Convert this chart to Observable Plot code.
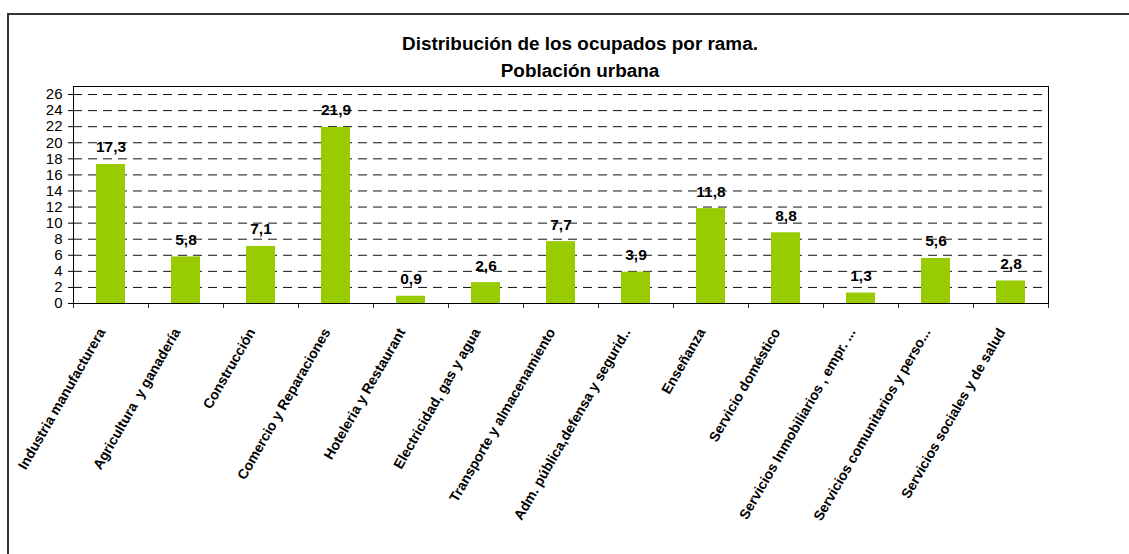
<!DOCTYPE html>
<html>
<head>
<meta charset="utf-8">
<script src="https://cdn.jsdelivr.net/npm/d3@7"></script>
<script src="https://cdn.jsdelivr.net/npm/@observablehq/plot@0.6"></script>
<style>
  html, body { margin: 0; padding: 0; background: #fff; overflow: hidden; }
  #wrap { position: relative; width: 1129px; height: 554px; overflow: hidden; }
  #border { position: absolute; left: 7px; top: 13px; width: 1300px; height: 700px; border: 2px solid #333; box-sizing: border-box; }
  #chart { position: absolute; left: 0; top: 0; }
</style>
</head>
<body>
<div id="wrap"><div id="border"></div><div id="chart"></div></div>
<script>
const titleLines = ["Distribución de los ocupados por rama.", "Población urbana"];
const categories = [
  "Industria manufacturera",
  "Agricultura  y ganadería",
  "Construcción",
  "Comercio y Reparaciones",
  "Hoteleria y Restaurant",
  "Electricidad, gas y agua",
  "Transporte y almacenamiento",
  "Adm. pública,defensa y segurid..",
  "Enseñanza",
  "Servicio doméstico",
  "Servicios Inmobiliarios , empr. ...",
  "Servicios comunitarios y perso...",
  "Servicios sociales y de salud"
];
const values = [17.3, 5.8, 7.1, 21.9, 0.9, 2.6, 7.7, 3.9, 11.8, 8.8, 1.3, 5.6, 2.8];
const yTicks = [0, 2, 4, 6, 8, 10, 12, 14, 16, 18, 20, 22, 24, 26];
const gridTicks = [2, 4, 6, 8, 10, 12, 14, 16, 18, 20, 22, 24, 26];

const data = categories.map((c, i) => ({cat: c, value: values[i]}));
const fmt = v => v.toFixed(1).replace(".", ",");

const W = 1129, H = 554, mL = 73, mR = 81, mT = 86, mB = 251;
const step = (W - mL - mR) / categories.length;

const chart = Plot.plot({
  width: W, height: H,
  marginLeft: mL, marginRight: mR, marginTop: mT, marginBottom: mB,
  style: {fontFamily: "'Liberation Sans', Arial, sans-serif", background: "transparent", color: "#000"},
  x: {domain: categories, paddingInner: 0.61, paddingOuter: 0.305, label: null},
  y: {domain: [0, 27], label: null},
  marks: [
    Plot.ruleY(gridTicks, {stroke: "#111", strokeDasharray: "9,6", strokeWidth: 1}),
    Plot.barY(data, {x: "cat", y: "value", fill: "#99CC00"}),
    Plot.text(data, {x: "cat", y: "value", text: d => fmt(d.value), dy: -17, fontWeight: "bold", fontSize: 15.5, fill: "#000"}),
    Plot.axisY({ticks: yTicks, tickSize: 5, tickPadding: 6, fontSize: 15, label: null, tickFormat: d => String(d)}),
    Plot.axisX({tickSize: 0, tickRotate: -60, tickPadding: 26, dx: -9, fontWeight: "bold", fontSize: 14, label: null}),
    Plot.ruleX(categories, {x: d => d, dx: -step / 2, y1: 0, y2: 0, insetBottom: -5, stroke: "#333"}),
    Plot.ruleX([categories[categories.length - 1]], {x: d => d, dx: step / 2, y1: 0, y2: 0, insetBottom: -5, stroke: "#333"}),
    Plot.frame({stroke: "#000"}),
    Plot.text([titleLines[0]], {frameAnchor: "top", lineAnchor: "middle", dx: 19, dy: -43, text: d => d, fontWeight: "bold", fontSize: 18.9, fill: "#000"}),
    Plot.text([titleLines[1]], {frameAnchor: "top", lineAnchor: "middle", dx: 19, dy: -16, text: d => d, fontWeight: "bold", fontSize: 18.9, fill: "#000"})
  ]
});
document.getElementById("chart").appendChild(chart);
</script>
</body>
</html>
